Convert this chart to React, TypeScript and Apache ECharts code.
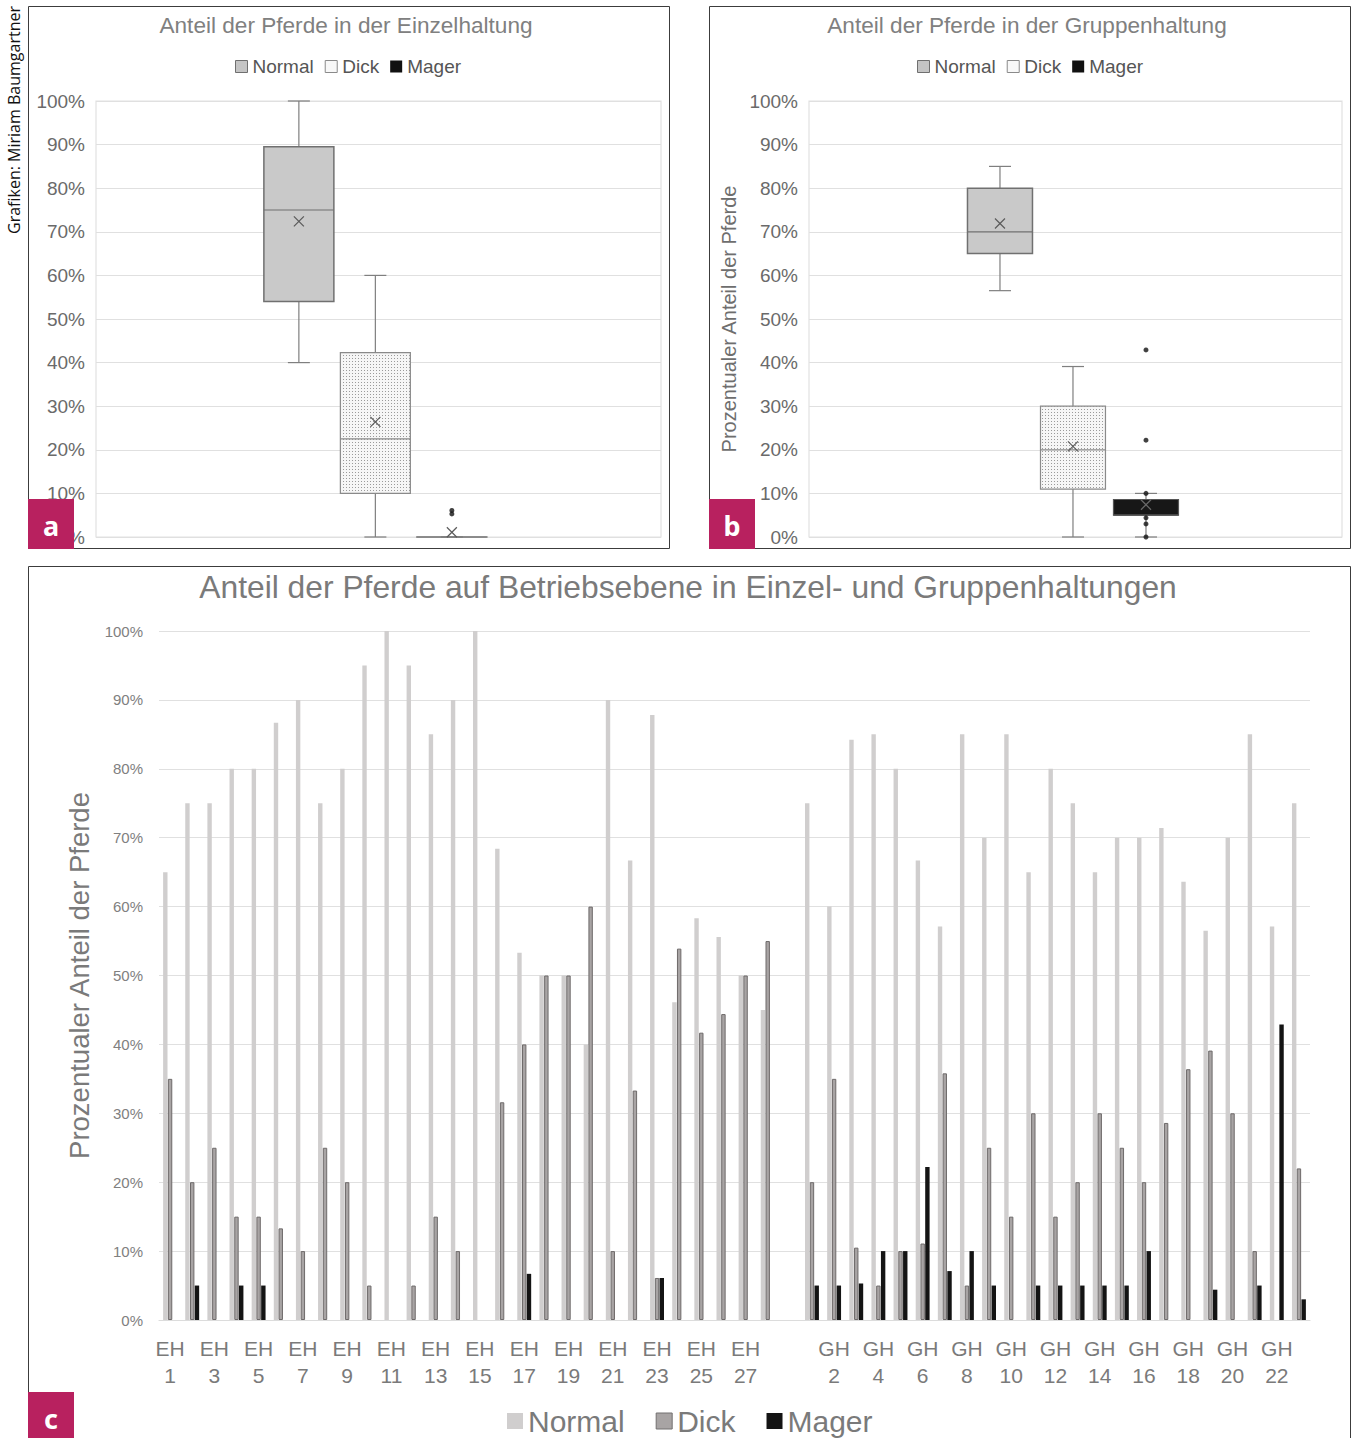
import React, { useEffect, useRef } from 'react';
import * as echarts from 'echarts';

const FONT = '"Liberation Sans", Arial, Helvetica, sans-serif';

// ---------- Panel c: per-farm shares ----------
const ehLabels = ['EH 1', 'EH 2', 'EH 3', 'EH 4', 'EH 5', 'EH 6', 'EH 7', 'EH 8', 'EH 9', 'EH 10', 'EH 11', 'EH 12', 'EH 13', 'EH 14', 'EH 15', 'EH 16', 'EH 17', 'EH 18', 'EH 19', 'EH 20', 'EH 21', 'EH 22', 'EH 23', 'EH 24', 'EH 25', 'EH 26', 'EH 27', 'EH 28'];
const gapLabel = [''];
const ghLabels = ['GH 1', 'GH 2', 'GH 3', 'GH 4', 'GH 5', 'GH 6', 'GH 7', 'GH 8', 'GH 9', 'GH 10', 'GH 11', 'GH 12', 'GH 13', 'GH 14', 'GH 15', 'GH 16', 'GH 17', 'GH 18', 'GH 19', 'GH 20', 'GH 21', 'GH 22', 'GH 23'];

const ehNormal = [65, 75, 75, 80, 80, 86.7, 90, 75, 80, 95, 100, 95, 85, 90, 100, 68.4, 53.3, 50, 50, 40, 90, 66.7, 87.8, 46.1, 58.3, 55.6, 50, 45];
const ehDick = [35, 20, 25, 15, 15, 13.3, 10, 25, 20, 5, 0, 5, 15, 10, 0, 31.6, 40, 50, 50, 60, 10, 33.3, 6.1, 53.9, 41.7, 44.4, 50, 55];
const ehMager = [0, 5, 0, 5, 5, 0, 0, 0, 0, 0, 0, 0, 0, 0, 0, 0, 6.7, 0, 0, 0, 0, 0, 6.1, 0, 0, 0, 0, 0];

const ghNormal = [75, 60, 84.2, 85, 80, 66.7, 57.1, 85, 70, 85, 65, 80, 75, 65, 70, 70, 71.4, 63.6, 56.5, 70, 85, 57.1, 75];
const ghDick = [20, 35, 10.5, 5, 10, 11.1, 35.8, 5, 25, 15, 30, 15, 20, 30, 25, 20, 28.6, 36.4, 39.1, 30, 10, 0, 22];
const ghMager = [5, 5, 5.3, 10, 10, 22.2, 7.1, 10, 5, 0, 5, 5, 5, 5, 5, 10, 0, 0, 4.4, 0, 5, 42.9, 3];

// ---------- Panels a / b: box plots ----------
const boxGroups = ['Normal', 'Dick', 'Mager'];
// [min, Q1, median, Q3, max]
const ehBoxStats = [
  [40, 54, 75, 89.5, 100],
  [0, 10, 22.5, 42.3, 60],
  [0, 0, 0, 0, 0],
];
const ehBoxMeans = [72.4, 26.4, 1.1];
const ehOutlierGroup = ['Mager', 'Mager'];
const ehOutlierValues = [5.3, 6.1];

const ghBoxStats = [
  [56.5, 65, 70, 80, 85],
  [0, 11, 20, 30, 39.1],
  [0, 5, 5, 8.6, 10],
];
const ghBoxMeans = [71.9, 20.8, 7.4];
const ghOutlierGroup = ['Mager', 'Mager', 'Mager', 'Mager', 'Mager', 'Mager'];
const ghOutlierValues = [42.9, 22.2, 10, 4.4, 3, 0];

export default function App() {
  const ref = useRef<HTMLDivElement>(null);

  useEffect(() => {
    document.body.style.margin = '0';
    if (!ref.current) return;
    const chart = echarts.init(ref.current, null, { renderer: 'svg', width: 1359, height: 1438 });

    // dotted fill pattern for "Dick"
    const cv = document.createElement('canvas');
    cv.width = 3;
    cv.height = 3;
    const ctx = cv.getContext('2d')!;
    ctx.fillStyle = '#f6f6f6';
    ctx.fillRect(0, 0, 3, 3);
    ctx.fillStyle = '#9a9a9a';
    ctx.fillRect(1, 1, 1, 1);
    const dotPattern: any = { image: cv, repeat: 'repeat', imageWidth: 3, imageHeight: 3 };

    const styleA = [
      { fill: '#c9c9c9', stroke: '#707070', lw: 1.5, mean: '#5a5a5a' },
      { fill: dotPattern, stroke: '#8a8a8a', lw: 1.2, mean: '#5a5a5a' },
      { fill: 'none', stroke: '#7f7f7f', lw: 1.5, mean: '#5a5a5a' },
    ];
    const styleB = [
      { fill: '#c9c9c9', stroke: '#707070', lw: 1.5, mean: '#5a5a5a' },
      { fill: dotPattern, stroke: '#8a8a8a', lw: 1.2, mean: '#5a5a5a' },
      { fill: '#171717', stroke: '#555555', lw: 1.2, mean: '#6a6a6a' },
    ];

    const makeBoxRender = (styles: any[], boxW: number) => (params: any, api: any) => {
      const xi = api.value(0);
      const pts = [1, 2, 3, 4, 5, 6].map((k) => api.coord([xi, api.value(k)]));
      const cx = pts[0][0];
      const [yMin, yQ1, yMed, yQ3, yMax, yMean] = pts.map((p: number[]) => p[1]);
      const s = styles[params.dataIndex];
      const half = boxW / 2;
      const cap = 11;
      const m = 5;
      const wl = { stroke: '#7f7f7f', lineWidth: 1.2 };
      return {
        type: 'group',
        children: [
          { type: 'line', shape: { x1: cx, y1: yQ3, x2: cx, y2: yMax }, style: wl },
          { type: 'line', shape: { x1: cx - cap, y1: yMax, x2: cx + cap, y2: yMax }, style: wl },
          { type: 'line', shape: { x1: cx, y1: yQ1, x2: cx, y2: yMin }, style: wl },
          { type: 'line', shape: { x1: cx - cap, y1: yMin, x2: cx + cap, y2: yMin }, style: wl },
          {
            type: 'rect',
            shape: { x: cx - half, y: yQ3, width: boxW, height: Math.max(yQ1 - yQ3, 0.01) },
            style: { fill: s.fill, stroke: s.stroke, lineWidth: s.lw },
          },
          { type: 'line', shape: { x1: cx - half, y1: yMed, x2: cx + half, y2: yMed }, style: { stroke: s.stroke, lineWidth: 1.2 } },
          { type: 'line', shape: { x1: cx - m, y1: yMean - m, x2: cx + m, y2: yMean + m }, style: { stroke: s.mean, lineWidth: 1.2 } },
          { type: 'line', shape: { x1: cx - m, y1: yMean + m, x2: cx + m, y2: yMean - m }, style: { stroke: s.mean, lineWidth: 1.2 } },
        ],
      };
    };

    const gi = (g: string) => boxGroups.indexOf(g);
    const ehBoxData = boxGroups.map((g, i) => [gi(g), ...ehBoxStats[i], ehBoxMeans[i]]);
    const ghBoxData = boxGroups.map((g, i) => [gi(g), ...ghBoxStats[i], ghBoxMeans[i]]);
    const ehOut = ehOutlierGroup.map((g, i) => [gi(g), ehOutlierValues[i]]);
    const ghOut = ghOutlierGroup.map((g, i) => [gi(g), ghOutlierValues[i]]);

    const cats = [...ehLabels, ...gapLabel, ...ghLabels];
    const z2dash = (v: number) => (v === 0 ? '-' : v);
    const normalAll = [...ehNormal, '-', ...ghNormal];
    const dickAll = [...ehDick.map(z2dash), '-', ...ghDick.map(z2dash)];
    const magerAll = [...ehMager.map(z2dash), '-', ...ghMager.map(z2dash)];

    const smallAxisY = (gIdx: number, withName: boolean) => ({
      type: 'value',
      gridIndex: gIdx,
      min: 0,
      max: 100,
      interval: 10,
      name: withName ? 'Prozentualer Anteil der Pferde' : '',
      nameLocation: 'middle',
      nameGap: 70,
      nameTextStyle: { fontSize: 20, color: '#6e6e6e', fontFamily: FONT },
      axisLine: { show: false },
      axisTick: { show: false },
      axisLabel: { formatter: '{value}%', fontSize: 19, color: '#6a6a6a', fontFamily: FONT, margin: 11 },
      splitLine: { lineStyle: { color: '#e0e0e0', width: 1.2 } },
    });
    // value axis spanning the box positions (0 = Normal, 1 = Dick, 2 = Mager)
    const smallAxisX = (gIdx: number, min: number, max: number) => ({
      type: 'value',
      gridIndex: gIdx,
      min,
      max,
      axisLine: { show: false },
      axisTick: { show: false },
      axisLabel: { show: false },
      splitLine: { show: false },
    });

    const legendSmall = (left: number) => ({
      left,
      top: 52,
      itemWidth: 12,
      itemHeight: 12,
      itemGap: 11,
      icon: 'rect',
      selectedMode: false,
      textStyle: { fontSize: 19, color: '#555555', fontFamily: FONT },
      data: [
        { name: 'Normal', itemStyle: { color: '#c4c4c4', borderColor: '#6f6f6f', borderWidth: 1 } },
        { name: 'Dick', itemStyle: { color: '#f8f8f8', borderColor: '#8a8a8a', borderWidth: 1 } },
        { name: 'Mager', itemStyle: { color: '#111111', borderWidth: 0 } },
      ],
    });

    const option: any = {
      animation: false,
      backgroundColor: '#ffffff',
      textStyle: { fontFamily: FONT },
      title: [
        { text: 'Anteil der Pferde in der Einzelhaltung', left: 341, top: 9, textAlign: 'center', textStyle: { fontSize: 22.6, fontWeight: 'normal', color: '#808080', fontFamily: FONT } },
        { text: 'Anteil der Pferde in der Gruppenhaltung', left: 1022, top: 9, textAlign: 'center', textStyle: { fontSize: 22.6, fontWeight: 'normal', color: '#808080', fontFamily: FONT } },
        { text: 'Anteil der Pferde auf Betriebsebene in Einzel- und Gruppenhaltungen', left: 683, top: 566, textAlign: 'center', textStyle: { fontSize: 31.8, fontWeight: 'normal', color: '#7a7a7a', fontFamily: FONT } },
      ],
      legend: [
        legendSmall(230),
        legendSmall(912),
        {
          left: 502,
          top: 1401,
          itemWidth: 16,
          itemHeight: 16,
          itemGap: 31,
          icon: 'rect',
          selectedMode: false,
          textStyle: { fontSize: 30, lineHeight: 30, color: '#7a7a7a', fontFamily: FONT },
          data: [
            { name: 'Normal', itemStyle: { color: '#d0cece', borderWidth: 0 } },
            { name: 'Dick', itemStyle: { color: '#a8a4a4', borderColor: '#727070', borderWidth: 1 } },
            { name: 'Mager', itemStyle: { color: '#141414', borderWidth: 0 } },
          ],
        },
      ],
      grid: [
        { left: 96, right: 698, top: 101, bottom: 901, show: true, borderColor: '#e2e2e2', borderWidth: 1.2, backgroundColor: 'transparent' },
        { left: 809, right: 17, top: 101, bottom: 901, show: true, borderColor: '#e2e2e2', borderWidth: 1.2, backgroundColor: 'transparent' },
        { left: 159, right: 49, top: 631, bottom: 118 },
      ],
      xAxis: [
        smallAxisX(0, -2.652, 4.734),
        smallAxisX(1, -2.616, 4.685),
        {
          type: 'category',
          gridIndex: 2,
          data: cats,
          axisLine: { show: true, lineStyle: { color: '#dcdcdc', width: 1.2 } },
          axisTick: { show: false },
          axisLabel: {
            interval: 1,
            fontSize: 21,
            lineHeight: 27,
            color: '#7a7a7a',
            fontFamily: FONT,
            margin: 15,
            formatter: (v: string) => v.replace(' ', '\n'),
          },
        },
      ],
      yAxis: [
        smallAxisY(0, false),
        smallAxisY(1, true),
        {
          type: 'value',
          gridIndex: 2,
          min: 0,
          max: 100,
          interval: 10,
          name: 'Prozentualer Anteil der Pferde',
          nameLocation: 'middle',
          nameGap: 65,
          nameTextStyle: { fontSize: 27.5, color: '#7a7a7a', fontFamily: FONT },
          axisLine: { show: false },
          axisTick: { show: false },
          axisLabel: { formatter: '{value}%', fontSize: 15, color: '#808080', fontFamily: FONT, margin: 16 },
          splitLine: { lineStyle: { color: '#e0e0e0', width: 1.2 } },
        },
      ],
      series: [
        {
          name: 'Einzelhaltung',
          type: 'custom',
          xAxisIndex: 0,
          yAxisIndex: 0,
          data: ehBoxData,
          encode: { x: 0, y: [1, 2, 3, 4, 5, 6] },
          renderItem: makeBoxRender(styleA, 70),
          z: 3,
        },
        {
          name: 'EH Ausreißer',
          type: 'scatter',
          xAxisIndex: 0,
          yAxisIndex: 0,
          data: ehOut,
          symbolSize: 5,
          itemStyle: { color: '#111111' },
          z: 4,
        },
        {
          name: 'Gruppenhaltung',
          type: 'custom',
          xAxisIndex: 1,
          yAxisIndex: 1,
          data: ghBoxData,
          encode: { x: 0, y: [1, 2, 3, 4, 5, 6] },
          renderItem: makeBoxRender(styleB, 65),
          z: 3,
        },
        {
          name: 'GH Ausreißer',
          type: 'scatter',
          xAxisIndex: 1,
          yAxisIndex: 1,
          data: ghOut,
          symbolSize: 5,
          itemStyle: { color: '#111111' },
          z: 4,
        },
        {
          name: 'Normal',
          type: 'bar',
          xAxisIndex: 2,
          yAxisIndex: 2,
          data: normalAll,
          barWidth: 4.4,
          barGap: '8%',
          itemStyle: { color: '#d0cece' },
        },
        {
          name: 'Dick',
          type: 'bar',
          xAxisIndex: 2,
          yAxisIndex: 2,
          data: dickAll,
          barWidth: 4.4,
          barGap: '8%',
          itemStyle: { color: '#a8a4a4', borderColor: '#6e6a6a', borderWidth: 1 },
        },
        {
          name: 'Mager',
          type: 'bar',
          xAxisIndex: 2,
          yAxisIndex: 2,
          data: magerAll,
          barWidth: 4.4,
          barGap: '8%',
          itemStyle: { color: '#141414' },
        },
      ],
      graphic: [
        { type: 'rect', z: 100, shape: { x: 28.5, y: 6.5, width: 641, height: 542 }, style: { fill: 'none', stroke: '#3c3c3c', lineWidth: 1 } },
        { type: 'rect', z: 100, shape: { x: 709.5, y: 6.5, width: 641, height: 542 }, style: { fill: 'none', stroke: '#3c3c3c', lineWidth: 1 } },
        { type: 'rect', z: 100, shape: { x: 28.5, y: 566.5, width: 1322, height: 900 }, style: { fill: 'none', stroke: '#3c3c3c', lineWidth: 1 } },
        { type: 'rect', z: 101, shape: { x: 28, y: 499, width: 46, height: 50 }, style: { fill: '#b8215f' } },
        { type: 'text', z: 102, x: 51, y: 525, style: { text: 'a', fill: '#ffffff', fontSize: 27, fontWeight: 'bold', fontFamily: '"Noto Sans", "Open Sans", sans-serif', align: 'center', verticalAlign: 'middle' } },
        { type: 'rect', z: 101, shape: { x: 709, y: 499, width: 46, height: 50 }, style: { fill: '#b8215f' } },
        { type: 'text', z: 102, x: 732, y: 525, style: { text: 'b', fill: '#ffffff', fontSize: 27, fontWeight: 'bold', fontFamily: '"Noto Sans", "Open Sans", sans-serif', align: 'center', verticalAlign: 'middle' } },
        { type: 'rect', z: 101, shape: { x: 28, y: 1392, width: 46, height: 50 }, style: { fill: '#b8215f' } },
        { type: 'text', z: 102, x: 51, y: 1418, style: { text: 'c', fill: '#ffffff', fontSize: 27, fontWeight: 'bold', fontFamily: '"Noto Sans", "Open Sans", sans-serif', align: 'center', verticalAlign: 'middle' } },
        {
          type: 'text',
          z: 102,
          x: 14,
          y: 120,
          rotation: Math.PI / 2,
          style: { text: 'Grafiken: Miriam Baumgartner', fill: '#111111', fontSize: 16, fontFamily: '"Open Sans", "Noto Sans", sans-serif', align: 'center', verticalAlign: 'middle' },
        },
      ],
    };

    chart.setOption(option);
    return () => chart.dispose();
  }, []);

  return (
    <div
      ref={ref}
      style={{ position: 'absolute', left: 0, top: 0, width: 1359, height: 1438, overflow: 'hidden', background: '#fff' }}
    />
  );
}
